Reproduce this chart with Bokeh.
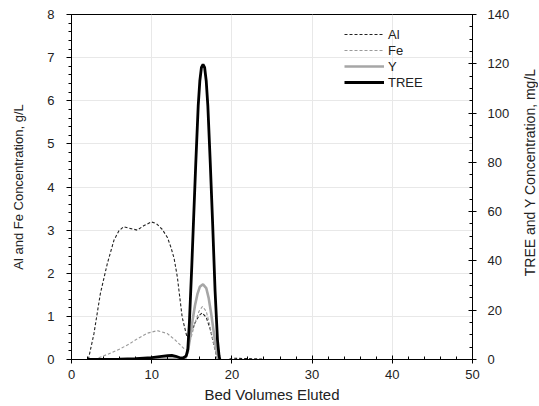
import math
from bokeh.plotting import figure
from bokeh.layouts import row
from bokeh.models import Range1d, LinearAxis, Legend, LegendItem, FixedTicker, Label
from bokeh.embed import file_html
from bokeh.resources import INLINE

# Al (g/L)
al_x = [2.1, 2.8, 3.6, 4.46, 5.3, 5.9, 6.5, 7.3, 8.2, 9.0, 9.96, 10.6, 11.3, 11.96, 12.4, 12.8, 13.2, 13.8, 14.4, 14.9, 15.4, 15.9, 16.3, 16.8, 17.3, 17.8, 18.2, 19.6, 20.0, 22.0, 24.0]
al_y = [0.0, 0.6, 1.53, 2.22, 2.77, 2.98, 3.08, 3.04, 3.0, 3.1, 3.19, 3.15, 3.02, 2.83, 2.6, 2.34, 1.91, 0.98, 0.52, 0.62, 0.85, 1.02, 1.08, 0.98, 0.7, 0.3, 0.0, 0.0, 0.03, 0.02, 0.01]

# Fe (g/L)
fe_x = [2.8, 4.5, 6.1, 7.2, 8.2, 9.46, 10.7, 11.96, 13.0, 14.04, 14.4, 14.9, 15.4, 15.9, 16.33, 16.8, 17.3, 17.8, 18.2]
fe_y = [0.0, 0.12, 0.25, 0.36, 0.48, 0.61, 0.67, 0.6, 0.44, 0.25, 0.22, 0.5, 0.85, 1.12, 1.23, 1.12, 0.75, 0.3, 0.0]

# Y (mg/L)
y_x = [2.0, 8.0, 12.0, 14.2, 14.5, 14.8, 15.1, 15.4, 15.7, 16.0, 16.4, 16.8, 17.1, 17.4, 17.7, 18.0, 18.3, 18.4]
y_y = [0.0, 0.1, 0.4, 0.5, 3.0, 9.0, 16.0, 22.0, 26.5, 29.5, 30.5, 29.0, 25.0, 19.0, 12.0, 5.0, 1.0, 0.0]

# TREE (mg/L)
tree_x = [2.0, 4.0, 6.0, 8.0, 10.0, 11.0, 12.0, 12.5, 13.0, 13.6, 14.0, 14.3, 14.5, 14.7, 15.0, 15.2, 15.5, 15.8, 16.0, 16.2, 16.4, 16.6, 16.8, 17.0, 17.3, 17.6, 17.9, 18.2, 18.4, 18.5]
tree_y = [0.0, 0.0, 0.1, 0.3, 0.8, 1.2, 1.6, 1.7, 1.3, 0.6, 0.8, 1.5, 4.0, 15.0, 38.0, 55.0, 80.0, 103.0, 113.0, 118.5, 119.7, 118.5, 113.0, 103.0, 80.0, 55.0, 28.0, 8.0, 1.5, 0.0]

x_ticks = [0, 10, 20, 30, 40, 50]
left_ticks = [0, 1, 2, 3, 4, 5, 6, 7, 8]
right_ticks = [0, 20, 40, 60, 80, 100, 120, 140]
right_title = "TREE and Y Concentration, mg/L"

FONT = "Liberation Sans"
TXT = "#222222"

TOP, FH, BOT = 14, 345, 31
H = TOP + FH + BOT

p = figure(output_backend="svg", toolbar_location=None,
           frame_width=401, frame_height=FH,
           x_range=Range1d(0, 50), y_range=Range1d(0, 8),
           min_border_left=71, min_border_right=40, min_border_top=TOP, min_border_bottom=BOT,
           background_fill_color="white", border_fill_color="white")
p.extra_y_ranges = {"r": Range1d(0, 140)}
p.outline_line_color = "black"
p.outline_line_width = 1

p.xgrid.ticker = FixedTicker(ticks=x_ticks)
p.ygrid.ticker = FixedTicker(ticks=left_ticks)
p.xgrid.grid_line_color = "#e8e8e8"
p.ygrid.grid_line_color = "#e8e8e8"

xa = p.xaxis[0]
xa.ticker = FixedTicker(ticks=x_ticks, minor_ticks=[i * 2 for i in range(26)])
xa.axis_label = "Bed Volumes Eluted"
xa.major_tick_in = 4
xa.major_tick_out = 4
xa.minor_tick_in = 3
xa.minor_tick_out = 0

ya = p.yaxis[0]
ya.ticker = FixedTicker(ticks=left_ticks, minor_ticks=[i * 0.2 for i in range(41)])
ya.axis_label = "Al and Fe Concentration, g/L"
ya.major_tick_in = 0
ya.major_tick_out = 5
ya.minor_tick_in = 0
ya.minor_tick_out = 3

ra = LinearAxis(y_range_name="r",
                ticker=FixedTicker(ticks=right_ticks, minor_ticks=[i * 5 for i in range(29)]))
ra.major_tick_in = 4
ra.major_tick_out = 4
ra.minor_tick_in = 3
ra.minor_tick_out = 0
p.add_layout(ra, "right")

for ax in [xa, ya, ra]:
    ax.axis_line_color = "black"
    ax.major_tick_line_color = "black"
    ax.minor_tick_line_color = "black"
    ax.major_label_text_font = FONT
    ax.major_label_text_font_size = "13px"
    ax.major_label_text_color = TXT
    ax.axis_label_text_font = FONT
    ax.axis_label_text_font_style = "normal"
    ax.axis_label_text_color = TXT
ya.axis_label_text_font_size = "13px"
xa.axis_label_text_font_size = "15px"
ya.major_label_standoff = 12
ra.major_label_standoff = 11
xa.major_label_standoff = 6
ya.axis_label_standoff = 18
xa.axis_label_standoff = 4

r_al = p.line(al_x, al_y, line_color="#222222", line_width=1.1, line_dash="3 2")
r_fe = p.line(fe_x, fe_y, line_color="#9a9a9a", line_width=1.1, line_dash="3 2")
r_y = p.line(y_x, y_y, line_color="#a6a6a6", line_width=2.6, y_range_name="r")
r_tree = p.line(tree_x, tree_y, line_color="#000000", line_width=2.8, y_range_name="r")

legend = Legend(items=[LegendItem(label="Al", renderers=[r_al]),
                       LegendItem(label="Fe", renderers=[r_fe]),
                       LegendItem(label="Y", renderers=[r_y]),
                       LegendItem(label="TREE", renderers=[r_tree])],
                location=(273, 269))
legend.background_fill_alpha = 0
legend.border_line_alpha = 0
legend.padding = 0
legend.margin = 0
legend.spacing = 0
legend.glyph_width = 40
legend.glyph_height = 16
legend.label_height = 16
legend.label_standoff = 4
legend.label_text_font = FONT
legend.label_text_font_size = "13px"
legend.label_text_color = TXT
p.add_layout(legend, "center")

# narrow strip to the right holding the right-axis title (reads bottom to top)
W2 = 26
p2 = figure(output_backend="svg", toolbar_location=None,
            width=W2, height=H, x_range=Range1d(0, W2), y_range=Range1d(0, H),
            min_border=0, background_fill_color="white", border_fill_color="white")
p2.axis.visible = False
p2.grid.visible = False
p2.outline_line_color = None
p2.add_layout(Label(x=17, y=H - (TOP + FH / 2), text=right_title, angle=math.pi / 2,
                    text_align="center", text_baseline="middle",
                    text_font=FONT, text_font_size="14px", text_color=TXT))

open("out.html", "w").write(file_html(row(p, p2), INLINE))
